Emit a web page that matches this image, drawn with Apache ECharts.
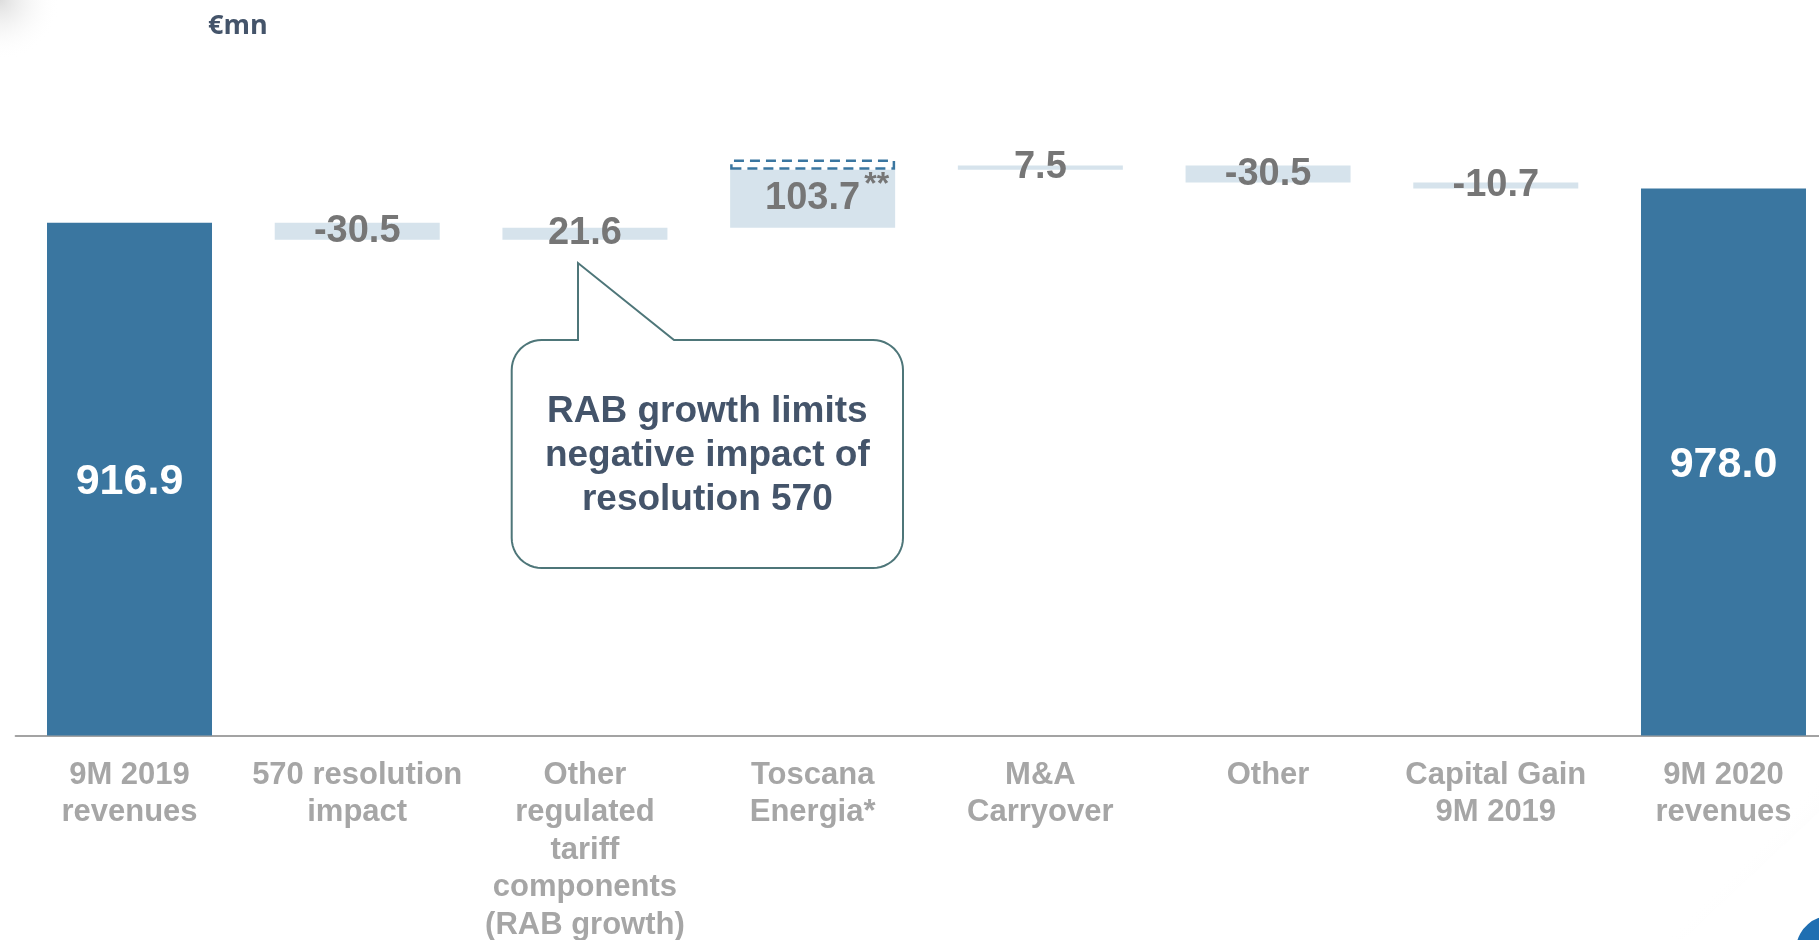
<!DOCTYPE html>
<html>
<head>
<meta charset="utf-8">
<title>Revenues bridge 9M 2019 – 9M 2020</title>
<script src="https://cdn.jsdelivr.net/npm/echarts@6/dist/echarts.min.js"></script>
<style>
  html, body { margin: 0; padding: 0; background: #ffffff; }
  #chart { width: 1819px; height: 940px; }
</style>
</head>
<body>
<div id="chart"></div>
<script>
// Revenue bridge, €mn
const categories = [
  '9M 2019\nrevenues',
  '570 resolution\nimpact',
  'Other\nregulated\ntariff\ncomponents\n(RAB growth)',
  'Toscana\nEnergia*',
  'M&A\nCarryover',
  'Other',
  'Capital Gain\n9M 2019',
  '9M 2020\nrevenues'
];
// Start / end totals (null where the column is a change)
const totals = [916.9, null, null, null, null, null, null, 978.0];
// Changes between the two totals
const deltas = [null, -30.5, 21.6, 103.7, 7.5, -30.5, -10.7, null];
// Dashed outline stacked on top of the Toscana Energia step
const dashedExtra = [null, null, null, 18, null, null, null, null];
// Footnote marks appended to a change label
const footnotes = ['', '', '', '**', '', '', '', ''];

const FONT = "'Liberation Sans', Arial, Helvetica, sans-serif";
const TOTAL_COLOR = '#3A76A0';
const DELTA_COLOR = '#D6E3EC';

// Floating bases for the waterfall steps
const baseData = [];
const stepData = [];
const totalData = [];
let running = 0;
categories.forEach((c, i) => {
  if (totals[i] != null) {
    running = totals[i];
    baseData.push(0);
    stepData.push('-');
    totalData.push(totals[i]);
  } else {
    const d = deltas[i];
    const next = running + d;
    baseData.push(Math.min(running, next));
    stepData.push(Math.abs(d));
    totalData.push('-');
    running = next;
  }
});
const extraData = dashedExtra.map(v => (v == null ? '-' : v));

const chart = echarts.init(document.getElementById('chart'), null, { renderer: 'canvas' });

// Speech-bubble outline with a tail pointing up at the RAB growth step
const bx0 = 511.7, bx1 = 903, by0 = 340, by1 = 568, br = 30;
const tailL = 578, tailR = 674, tipY = 263;
function corner(cx, cy, a0, a1, pts) {
  const n = 12;
  for (let k = 0; k <= n; k++) {
    const a = a0 + (a1 - a0) * k / n;
    pts.push([cx + br * Math.cos(a), cy + br * Math.sin(a)]);
  }
}
const bubblePts = [];
bubblePts.push([tailL, by0], [tailL, tipY], [tailR, by0]);
corner(bx1 - br, by0 + br, -Math.PI / 2, 0, bubblePts);
corner(bx1 - br, by1 - br, 0, Math.PI / 2, bubblePts);
corner(bx0 + br, by1 - br, Math.PI / 2, Math.PI, bubblePts);
corner(bx0 + br, by0 + br, Math.PI, Math.PI * 1.5, bubblePts);

const option = {
  backgroundColor: '#ffffff',
  animation: false,
  grid: {
    left: 15.65, width: 1821.7, top: 120.3, height: 615.2,
    containLabel: false, outerBoundsMode: 'none'
  },
  xAxis: {
    type: 'category',
    data: categories,
    axisLine: { show: true, lineStyle: { color: '#A3A3A3', width: 2 } },
    axisTick: { show: false },
    axisLabel: {
      interval: 0,
      margin: 21,
      color: '#A6A6A6',
      fontFamily: FONT,
      fontWeight: 'bold',
      fontSize: 31,
      lineHeight: 37.5,
      align: 'center'
    },
    splitLine: { show: false }
  },
  yAxis: {
    type: 'value',
    min: 0,
    max: 1100,
    show: false,
    splitLine: { show: false }
  },
  series: [
    {
      name: 'base',
      type: 'bar',
      stack: 'bridge',
      barWidth: 165,
      silent: true,
      itemStyle: { color: 'rgba(0,0,0,0)' },
      data: baseData
    },
    {
      name: 'change',
      type: 'bar',
      stack: 'bridge',
      barWidth: 165,
      itemStyle: { color: DELTA_COLOR },
      label: {
        show: true,
        position: 'inside',
        offset: [0, 7],
        formatter: p => {
          const v = deltas[p.dataIndex];
          const txt = v.toFixed(1);
          const fn = footnotes[p.dataIndex];
          // a hidden copy of the footnote on the left keeps the number centred
          return fn ? `{p|${fn}}{v|${txt}}{s|${fn}}` : `{v|${txt}}`;
        },
        rich: {
          v: { fontFamily: FONT, fontWeight: 'bold', fontSize: 38, color: '#767676', lineHeight: 42 },
          s: { fontFamily: FONT, fontWeight: 'bold', fontSize: 32, color: '#767676', lineHeight: 14,
               padding: [0, 0, 28, 4] },
          p: { fontFamily: FONT, fontWeight: 'bold', fontSize: 32, color: 'rgba(0,0,0,0)', lineHeight: 14,
               padding: [0, 4, 28, 0] }
        }
      },
      labelLayout: { hideOverlap: false },
      data: stepData
    },
    {
      name: 'dashed',
      type: 'bar',
      stack: 'bridge',
      barWidth: 160,
      barGap: '-100%',
      itemStyle: {
        color: 'rgba(0,0,0,0)',
        borderColor: TOTAL_COLOR,
        borderWidth: 2.5,
        borderType: [10, 6]
      },
      data: extraData
    },
    {
      name: 'total',
      type: 'bar',
      stack: 'bridge',
      barWidth: 165,
      itemStyle: { color: TOTAL_COLOR },
      label: {
        show: true,
        position: 'inside',
        offset: [0, 3],
        formatter: p => totals[p.dataIndex].toFixed(1),
        fontFamily: FONT,
        fontWeight: 'bold',
        fontSize: 43,
        color: '#ffffff'
      },
      data: totalData
    }
  ],
  graphic: [
    // faint shading in the top-left corner
    {
      type: 'circle',
      shape: { cx: 0, cy: 0, r: 60 },
      silent: true,
      style: {
        fill: {
          type: 'radial', x: 0.5, y: 0.5, r: 0.5,
          colorStops: [
            { offset: 0, color: 'rgba(215,215,215,0.85)' },
            { offset: 1, color: 'rgba(255,255,255,0)' }
          ]
        }
      }
    },
    // unit
    {
      type: 'text',
      x: 208,
      y: 26,
      style: {
        text: '€mn',
        fontFamily: "'Open Sans', 'Liberation Sans', sans-serif",
        fontWeight: 'bold',
        fontSize: 27,
        fill: '#44546A',
        align: 'left',
        verticalAlign: 'middle'
      }
    },
    // callout bubble
    {
      type: 'polygon',
      shape: { points: bubblePts },
      z: 10,
      style: { fill: '#ffffff', stroke: '#4E7679', lineWidth: 2 }
    },
    {
      type: 'text',
      x: (bx0 + bx1) / 2,
      y: 456,
      z: 11,
      style: {
        text: 'RAB growth limits\nnegative impact of\nresolution 570',
        fontFamily: FONT,
        fontWeight: 'bold',
        fontSize: 37,
        lineHeight: 44,
        fill: '#44546A',
        align: 'center',
        verticalAlign: 'middle'
      }
    },
    // page-fold shading in the bottom-right corner
    {
      type: 'polygon',
      silent: true,
      shape: { points: [[1819, 770], [1819, 812], [1683, 940], [1638, 940]] },
      style: {
        fill: {
          type: 'linear', x: 1, y: 1, x2: 0.55, y2: 0.55,
          colorStops: [
            { offset: 0, color: 'rgba(225,225,225,0.9)' },
            { offset: 1, color: 'rgba(255,255,255,0)' }
          ]
        }
      }
    },
    {
      type: 'polygon',
      silent: true,
      shape: { points: [[1819, 812], [1819, 940], [1683, 940]] },
      style: { fill: '#ffffff' }
    },
    // corner logo fragment
    {
      type: 'sector',
      silent: true,
      shape: { cx: 1830, cy: 950, r0: 12, r: 34, startAngle: Math.PI * 1.05, endAngle: Math.PI * 1.5 },
      style: { fill: '#1F6FB2' }
    }
  ]
};

chart.setOption(option);
</script>
</body>
</html>
